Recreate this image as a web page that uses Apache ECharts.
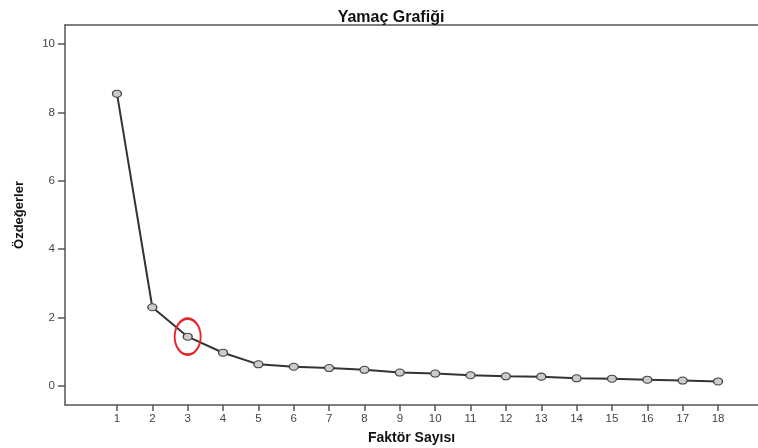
<!DOCTYPE html>
<html>
<head>
<meta charset="utf-8">
<script src="https://cdn.jsdelivr.net/npm/echarts@6/dist/echarts.min.js"></script>
<style>
  html, body { margin: 0; padding: 0; background: #fff; }
  #chart { width: 758px; height: 448px; }
</style>
</head>
<body>
<div id="chart"></div>
<script>
const factors = [1, 2, 3, 4, 5, 6, 7, 8, 9, 10, 11, 12, 13, 14, 15, 16, 17, 18];
const eigenvalues = [8.55, 2.30, 1.44, 0.97, 0.63, 0.56, 0.52, 0.47, 0.39, 0.36, 0.31, 0.28, 0.27, 0.22, 0.21, 0.18, 0.155, 0.13];
const yTicks = [0, 2, 4, 6, 8, 10];
const highlighted = 3;

// ellipse path, gets stretched to symbolSize
const ellipse = 'path://M0,50 A50,50 0 1,1 100,50 A50,50 0 1,1 0,50 Z';

const axisColor = '#555';

const chart = echarts.init(document.getElementById('chart'));

chart.setOption({
    animation: false,
    textStyle: { fontFamily: 'Liberation Sans, Arial, sans-serif' },
    title: {
        text: 'Yamaç Grafiği',
        left: 386,
        top: 5,
        textAlign: 'center',
        textStyle: { fontSize: 16, fontWeight: 'bold', color: '#111' }
    },
    grid: { left: 65, top: 25, right: 0, bottom: 43, outerBoundsMode: 'none' },
    xAxis: [{
        type: 'value',
        min: -0.47,
        max: 19.13,
        name: 'Faktör Sayısı',
        nameLocation: 'middle',
        nameGap: 26,
        nameTextStyle: { fontSize: 14, fontWeight: 'bold', color: '#111' },
        axisLine: { onZero: false, lineStyle: { color: axisColor, width: 1.5 } },
        axisTick: { customValues: factors, length: 6, lineStyle: { color: axisColor, width: 1.5 } },
        axisLabel: { customValues: factors, color: '#444', fontSize: 11.5, margin: 8 },
        splitLine: { show: false }
    }, {
        // top frame line only
        type: 'value',
        position: 'top',
        min: -0.47,
        max: 19.13,
        axisLine: { onZero: false, lineStyle: { color: axisColor, width: 1.5 } },
        axisTick: { show: false },
        axisLabel: { show: false },
        splitLine: { show: false }
    }],
    yAxis: {
        type: 'value',
        min: -0.56,
        max: 10.56,
        name: 'Özdeğerler',
        nameLocation: 'middle',
        nameGap: 39,
        nameTextStyle: { fontSize: 13, fontWeight: 'bold', color: '#111' },
        axisLine: { onZero: false, lineStyle: { color: axisColor, width: 1.5 } },
        axisTick: { customValues: yTicks, length: 7, lineStyle: { color: axisColor, width: 1.5 } },
        axisLabel: { customValues: yTicks, color: '#444', fontSize: 11.5, margin: 10 },
        splitLine: { show: false }
    },
    series: [{
        type: 'line',
        data: factors.map((f, i) => [f, eigenvalues[i]]),
        symbol: ellipse,
        symbolSize: [9, 7],
        lineStyle: { color: '#333', width: 2 },
        itemStyle: { color: '#cccccc', borderColor: '#444', borderWidth: 1.2 },
        markPoint: {
            symbol: ellipse,
            symbolSize: [26, 36],
            label: { show: false },
            itemStyle: { color: 'transparent', borderColor: '#e5262b', borderWidth: 2.2 },
            data: [{ coord: [highlighted, eigenvalues[highlighted - 1]] }]
        }
    }]
});
</script>
</body>
</html>
